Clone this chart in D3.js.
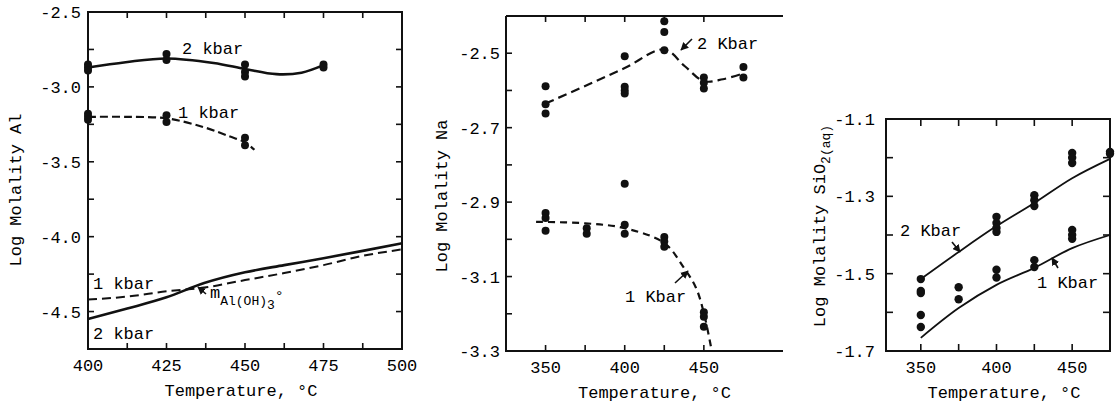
<!DOCTYPE html>
<html>
<head>
<meta charset="utf-8">
<script src="https://cdn.jsdelivr.net/npm/d3@7"></script>
<style>
  body { margin: 0; background: #fff; }
  text { font-family: "Liberation Mono", "DejaVu Sans Mono", monospace; fill: #000; }
</style>
</head>
<body>
<div id="chart"></div>
<script>
// ---- Al panel (left) ----
var alXTicks = [400, 425, 450, 475, 500];
var alYTicks = [-2.5, -3.0, -3.5, -4.0, -4.5];
var al2kbarPts = [[400,-2.85],[400,-2.87],[400,-2.89],[425,-2.78],[425,-2.82],[450,-2.85],[450,-2.90],[450,-2.93],[475,-2.85],[475,-2.87]];
var al2kbarCurve = [[400,-2.87],[412,-2.835],[425,-2.81],[440,-2.84],[450,-2.88],[460,-2.915],[468,-2.905],[475,-2.855]];
var al1kbarPts = [[400,-3.18],[400,-3.20],[400,-3.22],[425,-3.19],[425,-3.235],[450,-3.34],[450,-3.39]];
var al1kbarCurve = [[400,-3.2],[412,-3.2],[425,-3.21],[437,-3.27],[445,-3.33],[450,-3.37],[453,-3.42]];
var alOH3_2kbar = [[400,-4.55],[412.5,-4.48],[425,-4.405],[437,-4.31],[450,-4.238],[462.5,-4.19],[475,-4.144],[487.5,-4.095],[500,-4.044]];
var alOH3_1kbar = [[400,-4.42],[412.5,-4.40],[425,-4.365],[437,-4.34],[450,-4.29],[462.5,-4.243],[475,-4.19],[487.5,-4.128],[500,-4.085]];

// ---- Na panel (middle) ----
var naXTicks = [350, 400, 450];
var naYTicks = [-2.5, -2.7, -2.9, -3.1, -3.3];
var na2KbarPts = [[350,-2.589],[350,-2.637],[350,-2.662],[400,-2.508],[400,-2.59],[400,-2.60],[400,-2.608],[425,-2.414],[425,-2.443],[425,-2.492],[450,-2.565],[450,-2.579],[450,-2.595],[475,-2.537],[475,-2.565]];
var na2KbarCurve = [[350,-2.635],[375,-2.588],[400,-2.54],[425,-2.49],[438,-2.535],[450,-2.575],[462,-2.57],[475,-2.554]];
var na1KbarPts = [[350,-2.929],[350,-2.943],[350,-2.977],[376,-2.97],[376,-2.985],[400,-2.961],[400,-2.985],[400,-2.851],[425,-2.994],[425,-3.006],[425,-3.02],[450,-3.196],[450,-3.208],[450,-3.235]];
var na1KbarCurve = [[344,-2.953],[375,-2.957],[400,-2.97],[425,-3.01],[437,-3.074],[445,-3.13],[450,-3.198],[455,-3.3]];

// ---- SiO2 panel (right) ----
var siXTicks = [350, 400, 450];
var siYTicks = [-1.1, -1.3, -1.5, -1.7];
var si2KbarPts = [[350,-1.514],[350,-1.545],[350,-1.55],[400,-1.353],[400,-1.369],[400,-1.382],[400,-1.392],[425,-1.297],[425,-1.31],[425,-1.325],[450,-1.188],[450,-1.2],[450,-1.214],[475,-1.185],[475,-1.19]];
var si1KbarPts = [[350,-1.607],[350,-1.638],[375,-1.535],[375,-1.566],[400,-1.49],[400,-1.51],[425,-1.465],[425,-1.483],[450,-1.387],[450,-1.4],[450,-1.41]];
var si2KbarCurve = [[350,-1.514],[375,-1.444],[400,-1.377],[425,-1.317],[450,-1.253],[475,-1.203]];
var si1KbarCurve = [[350,-1.666],[375,-1.589],[400,-1.529],[425,-1.485],[450,-1.434],[475,-1.4]];

var width = 1117, height = 406;

var svg = d3.select("#chart")
    .append("svg")
    .attr("width", width)
    .attr("height", height);

svg.append("rect").attr("width", width).attr("height", height).attr("fill", "#fff");

// draws frame, inward ticks and labels for one panel, returns scales
function makePanel(o) {
    var x = d3.scaleLinear().domain(o.xDomain).range([o.left, o.right]);
    var y = d3.scaleLinear().domain(o.yDomain).range([o.bottom, o.top]);
    var g = svg.append("g");

    var frame = "M" + o.left + "," + o.top + "V" + o.bottom + "H" + o.right;
    if (o.rightSide) frame += "V" + o.top;
    frame += (o.rightSide ? "Z" : "M" + o.right + "," + o.top + "H" + o.left);
    g.append("path").attr("d", frame).attr("fill", "none").attr("stroke", "#111").attr("stroke-width", 2);

    var tl = o.tickLen;
    o.xMinor.forEach(function(t) {
        g.append("line").attr("x1", x(t)).attr("x2", x(t)).attr("y1", o.bottom).attr("y2", o.bottom - tl).attr("stroke", "#111").attr("stroke-width", 1.6);
        g.append("line").attr("x1", x(t)).attr("x2", x(t)).attr("y1", o.top).attr("y2", o.top + tl).attr("stroke", "#111").attr("stroke-width", 1.6);
    });
    o.yMinor.forEach(function(t) {
        g.append("line").attr("x1", o.left).attr("x2", o.left + tl).attr("y1", y(t)).attr("y2", y(t)).attr("stroke", "#111").attr("stroke-width", 1.6);
        if (o.rightSide)
            g.append("line").attr("x1", o.right).attr("x2", o.right - tl).attr("y1", y(t)).attr("y2", y(t)).attr("stroke", "#111").attr("stroke-width", 1.6);
    });

    g.selectAll(".xl").data(o.xTicks).enter().append("text")
        .attr("x", function(d) { return x(d); })
        .attr("y", o.bottom + 22)
        .attr("text-anchor", "middle")
        .style("font-size", "17px")
        .text(function(d) { return d; });

    g.selectAll(".yl").data(o.yTicks).enter().append("text")
        .attr("x", o.left - o.yLabelGap)
        .attr("y", function(d) { return y(d) + 6; })
        .attr("text-anchor", "end")
        .style("font-size", "17px")
        .text(function(d) { return d.toFixed(1); });

    g.append("text")
        .attr("x", (o.left + o.right) / 2 + o.xTitleShift)
        .attr("y", o.bottom + 47)
        .attr("text-anchor", "middle")
        .style("font-size", "17px")
        .text("Temperature, \u00b0C");

    return { x: x, y: y, g: g };
}

function drawCurve(p, data, dash, w, curve) {
    var line = d3.line()
        .x(function(d) { return p.x(d[0]); })
        .y(function(d) { return p.y(d[1]); })
        .curve(curve || d3.curveCatmullRom.alpha(0.5));
    p.g.append("path")
        .datum(data)
        .attr("d", line)
        .attr("fill", "none")
        .attr("stroke", "#111")
        .attr("stroke-width", w)
        .attr("stroke-dasharray", dash);
}

function drawDots(p, data, r) {
    p.g.selectAll(null).data(data).enter().append("circle")
        .attr("cx", function(d) { return p.x(d[0]); })
        .attr("cy", function(d) { return p.y(d[1]); })
        .attr("r", r)
        .attr("fill", "#111");
}

function label(p, x, y, txt) {
    return p.g.append("text").attr("x", x).attr("y", y).style("font-size", "17px").text(txt);
}

function arrow(p, x1, y1, x2, y2) {
    p.g.append("line").attr("x1", x1).attr("y1", y1).attr("x2", x2).attr("y2", y2)
        .attr("stroke", "#111").attr("stroke-width", 1.6).attr("marker-end", "url(#head)");
}

var defs = svg.append("defs");
defs.append("marker")
    .attr("id", "head")
    .attr("viewBox", "0 0 10 10")
    .attr("refX", 9).attr("refY", 5)
    .attr("markerWidth", 5).attr("markerHeight", 5)
    .attr("orient", "auto")
    .append("path").attr("d", "M0,0L10,5L0,10Z").attr("fill", "#111");

// ---- left ----
var pAl = makePanel({
    xDomain: [400, 500], yDomain: [-4.75, -2.5],
    left: 88, right: 402, top: 12, bottom: 349,
    xTicks: alXTicks, yTicks: alYTicks,
    xMinor: d3.range(400, 500.1, 12.5), yMinor: d3.range(-4.75, -2.49, 0.25),
    tickLen: 6, rightSide: true, yLabelGap: 7, xTitleShift: -4
});
drawCurve(pAl, al2kbarCurve, null, 2.6);
drawCurve(pAl, al1kbarCurve, "8,4", 2.2);
drawCurve(pAl, alOH3_2kbar, null, 2.6, d3.curveMonotoneX);
drawCurve(pAl, alOH3_1kbar, "9,5", 2, d3.curveMonotoneX);
drawDots(pAl, al2kbarPts, 4);
drawDots(pAl, al1kbarPts, 4);
label(pAl, 182, 54, "2 kbar");
label(pAl, 178, 118, "1 kbar");
label(pAl, 93, 289, "1 kbar");
label(pAl, 93, 339, "2 kbar");
var mt = label(pAl, 210, 298, "m");
mt.append("tspan").attr("dy", 7).style("font-size", "13px").text("Al(OH)");
mt.append("tspan").attr("dy", 4).style("font-size", "13px").text("3");
mt.append("tspan").attr("dy", -8).style("font-size", "15px").text("\u00b0");
arrow(pAl, 206, 294, 198, 287);
pAl.g.append("text")
    .attr("transform", "translate(21,190) rotate(-90)")
    .attr("text-anchor", "middle")
    .style("font-size", "17px")
    .text("Log Molality Al");

// ---- middle ----
var pNa = makePanel({
    xDomain: [325, 500], yDomain: [-3.3, -2.4],
    left: 506, right: 783, top: 16, bottom: 351,
    xTicks: naXTicks, yTicks: naYTicks,
    xMinor: d3.range(350, 450.1, 25), yMinor: d3.range(-3.2, -2.45, 0.1),
    tickLen: 6, rightSide: false, yLabelGap: 6, xTitleShift: 10
});
drawCurve(pNa, na2KbarCurve, "9,5", 2.2);
drawCurve(pNa, na1KbarCurve, "7,5", 2.2);
drawDots(pNa, na2KbarPts, 4);
drawDots(pNa, na1KbarPts, 4);
label(pNa, 697, 49, "2 Kbar");
arrow(pNa, 692, 39, 681, 50);
label(pNa, 625, 302, "1 Kbar");
arrow(pNa, 675, 283, 688, 271);
pNa.g.append("text")
    .attr("transform", "translate(447,196) rotate(-90)")
    .attr("text-anchor", "middle")
    .style("font-size", "17px")
    .text("Log Molality Na");

// ---- right ----
var pSi = makePanel({
    xDomain: [327, 475], yDomain: [-1.7, -1.1],
    left: 886, right: 1110, top: 119, bottom: 351,
    xTicks: siXTicks, yTicks: siYTicks,
    xMinor: d3.range(350, 450.1, 25), yMinor: d3.range(-1.7, -1.09, 0.1),
    tickLen: 7, rightSide: true, yLabelGap: 11, xTitleShift: 6
});
drawCurve(pSi, si2KbarCurve, null, 1.8);
drawCurve(pSi, si1KbarCurve, null, 1.8);
drawDots(pSi, si2KbarPts, 4.2);
drawDots(pSi, si1KbarPts, 4.2);
label(pSi, 900, 236, "2 Kbar");
arrow(pSi, 952, 242, 960, 252);
label(pSi, 1037, 288, "1 Kbar");
arrow(pSi, 1058, 268, 1052, 258);
var st = pSi.g.append("text")
    .attr("transform", "translate(825,226) rotate(-90)")
    .attr("text-anchor", "middle")
    .style("font-size", "17px")
    .text("Log Molality SiO");
st.append("tspan").attr("dy", 5).style("font-size", "13px").text("2(aq)");
</script>
</body>
</html>
